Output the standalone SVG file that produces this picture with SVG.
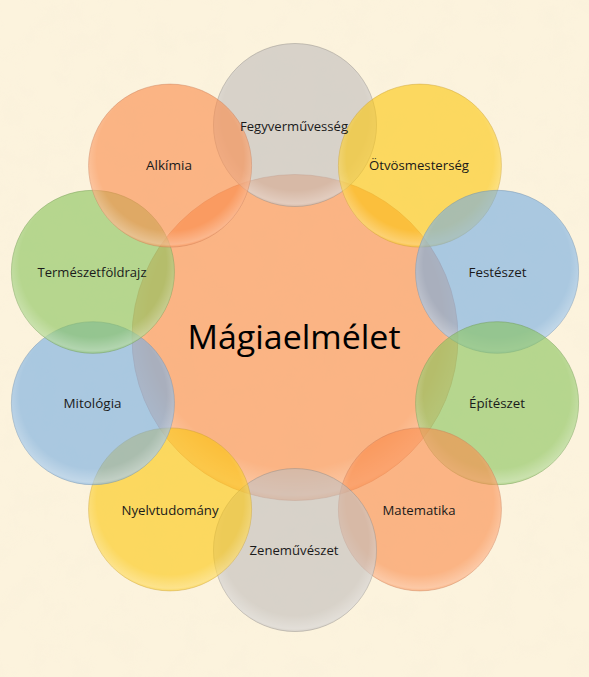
<svg xmlns="http://www.w3.org/2000/svg" width="589" height="677" viewBox="0 0 589 677">
  <defs>
    <filter id="paper" x="0" y="0" width="100%" height="100%">
      <feTurbulence type="fractalNoise" baseFrequency="0.035" numOctaves="3" seed="4" result="n"/>
      <feColorMatrix in="n" type="matrix" values="0 0 0 0 0.93  0 0 0 0 0.86  0 0 0 0 0.70  0 0 0 1.1 -0.45"/>
      <feComposite in2="SourceGraphic" operator="in"/>
    </filter>
    <radialGradient id="rim" cx="0.5" cy="0.45" r="0.55">
      <stop offset="0.82" stop-color="#ffffff" stop-opacity="0"/>
      <stop offset="0.97" stop-color="#ffffff" stop-opacity="0.28"/>
      <stop offset="1" stop-color="#ffffff" stop-opacity="0.05"/>
    </radialGradient>
    <style>
      .c { fill-opacity: 0.6; stroke-width: 1; stroke-opacity: 0.45; }
      .rim { fill: url(#rim); stroke: none; }
      .gray { fill: #c0bcbd; stroke: #8f8a86; }
      .yellow { fill: #fcc60c; stroke: #c9a030; }
      .blue { fill: #73abe3; stroke: #6d8fae; }
      .green { fill: #87c35a; stroke: #6f9a4e; }
      .orange { fill: #fa8a4a; stroke: #c97c56; }
      .lbl { font-family: "Open Sans", "Noto Sans", "Liberation Sans", sans-serif; font-size: 12.5px; fill: #1a1a1a; text-anchor: middle; }
      .main { font-family: "Open Sans", "Noto Sans", "Liberation Sans", sans-serif; font-size: 33px; fill: #000000; text-anchor: middle; }
    </style>
  </defs>

  <rect width="589" height="677" fill="#fcf3dd"/>
  <rect width="589" height="677" fill="#fcf3dd" filter="url(#paper)" opacity="0.6"/>

  <g id="center-node">
    <circle class="c orange" cx="295" cy="337.5" r="163"/>
    <circle class="rim" cx="295" cy="337.5" r="163"/>
  </g>

  <g id="node-fegyvermuvesseg">
    <circle class="c gray" cx="295" cy="125" r="81.5"/>
    <circle class="rim" cx="295" cy="125" r="81.5"/>
  </g>
  <g id="node-otvosmesterseg">
    <circle class="c yellow" cx="419.9" cy="165.6" r="81.5"/>
    <circle class="rim" cx="419.9" cy="165.6" r="81.5"/>
  </g>
  <g id="node-feszeszet">
    <circle class="c blue" cx="497.1" cy="271.8" r="81.5"/>
    <circle class="rim" cx="497.1" cy="271.8" r="81.5"/>
  </g>
  <g id="node-epiteszet">
    <circle class="c green" cx="497.1" cy="403.2" r="81.5"/>
    <circle class="rim" cx="497.1" cy="403.2" r="81.5"/>
  </g>
  <g id="node-matematika">
    <circle class="c orange" cx="419.9" cy="509.4" r="81.5"/>
    <circle class="rim" cx="419.9" cy="509.4" r="81.5"/>
  </g>
  <g id="node-zenemuveszet">
    <circle class="c gray" cx="295" cy="550" r="81.5"/>
    <circle class="rim" cx="295" cy="550" r="81.5"/>
  </g>
  <g id="node-nyelvtudomany">
    <circle class="c yellow" cx="170.1" cy="509.4" r="81.5"/>
    <circle class="rim" cx="170.1" cy="509.4" r="81.5"/>
  </g>
  <g id="node-mitologia">
    <circle class="c blue" cx="92.9" cy="403.2" r="81.5"/>
    <circle class="rim" cx="92.9" cy="403.2" r="81.5"/>
  </g>
  <g id="node-termeszetfoldrajz">
    <circle class="c green" cx="92.9" cy="271.8" r="81.5"/>
    <circle class="rim" cx="92.9" cy="271.8" r="81.5"/>
  </g>
  <g id="node-alkimia">
    <circle class="c orange" cx="170.1" cy="165.6" r="81.5"/>
    <circle class="rim" cx="170.1" cy="165.6" r="81.5"/>
  </g>

  <g id="labels">
    <text class="main" x="294" y="348.5" textLength="213" lengthAdjust="spacingAndGlyphs">Mágiaelmélet</text>
    <text class="lbl" x="294" y="130.5" textLength="108" lengthAdjust="spacingAndGlyphs">Fegyverművesség</text>
    <text class="lbl" x="419" y="170" textLength="100" lengthAdjust="spacingAndGlyphs">Ötvösmesterség</text>
    <text class="lbl" x="497.5" y="277" textLength="58" lengthAdjust="spacingAndGlyphs">Festészet</text>
    <text class="lbl" x="497" y="408" textLength="56" lengthAdjust="spacingAndGlyphs">Építészet</text>
    <text class="lbl" x="419" y="515" textLength="73" lengthAdjust="spacingAndGlyphs">Matematika</text>
    <text class="lbl" x="294" y="555" textLength="89" lengthAdjust="spacingAndGlyphs">Zeneművészet</text>
    <text class="lbl" x="170" y="514.5" textLength="97" lengthAdjust="spacingAndGlyphs">Nyelvtudomány</text>
    <text class="lbl" x="92.5" y="408" textLength="58" lengthAdjust="spacingAndGlyphs">Mitológia</text>
    <text class="lbl" x="92" y="277" textLength="109" lengthAdjust="spacingAndGlyphs">Természetföldrajz</text>
    <text class="lbl" x="169" y="169.5" textLength="46" lengthAdjust="spacingAndGlyphs">Alkímia</text>
  </g>
</svg>
